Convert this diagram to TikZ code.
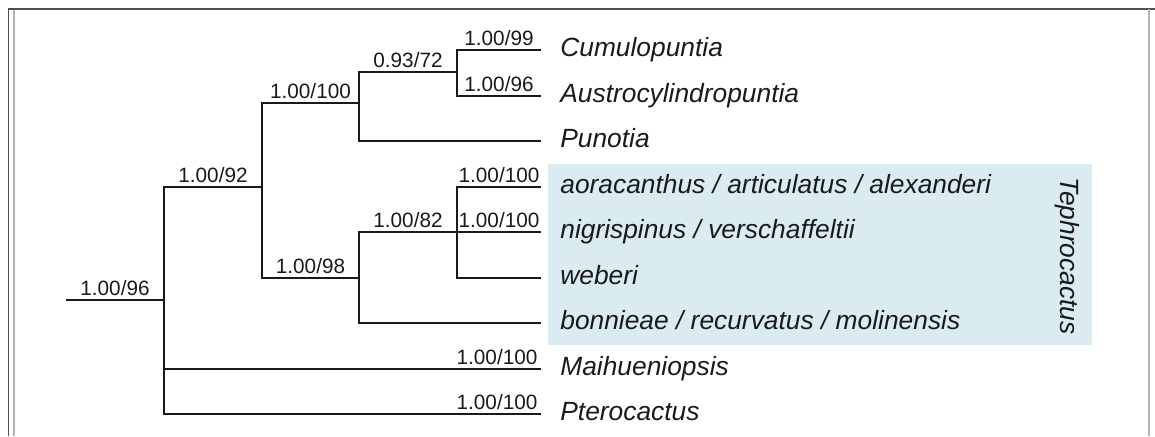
\documentclass[tikz,border=0pt]{standalone}
\usepackage{fontspec}
\setmainfont{Liberation Sans}
\usetikzlibrary{positioning}
\definecolor{treeink}{HTML}{1A1A1A}
\definecolor{cladeblue}{HTML}{DAEBF1}
\definecolor{framegray}{HTML}{505050}
\definecolor{framelight}{HTML}{B4B4B4}

\begin{document}
\begin{tikzpicture}[
  x=0.02cm, y=-0.02cm,
  branch/.style={treeink, line width=1.3pt},
  leaf/.style={anchor=west, inner xsep=0.38cm, inner ysep=0pt, text=treeink, font=\fontsize{15}{17}\selectfont\itshape, text height=0.72em, text depth=0pt},
  sup/.style={above, inner xsep=0.05cm, inner ysep=0.07cm, text=treeink, font=\fontsize{11.8}{13}\selectfont, text depth=0pt},
  cladename/.style={rotate=-90, inner sep=0pt, text=treeink, font=\fontsize{15}{17}\selectfont\itshape, text height=0.72em, text depth=0pt},
]
\useasboundingbox (0,0) rectangle (1155,436);
% frame
\draw[framegray, line width=0.7pt] (8.5,436) -- (8.5,9) -- (1155,9);
\draw[framelight, line width=0.6pt] (14,436) -- (14,10);
\draw[framelight, line width=1pt] (1149,9) -- (1149,436);
% Tephrocactus highlight
\fill[cladeblue] (548,164) rectangle (1092,345);
\node[cladename] (teph) at (1067,256) {Tephrocactus};
% internal nodes
\coordinate (stem) at (66,300);
\coordinate (r) at (164,300);
\coordinate (a) at (262,187);
\coordinate (b) at (359,103);
\coordinate (c) at (457,72);
\coordinate (d) at (359,278);
\coordinate (e) at (457,232);
% tips
\node[leaf] (cumu) at (541,50) {Cumulopuntia};
\node[leaf] (austro) at (541,96) {Austrocylindropuntia};
\node[leaf] (puno) at (541,141) {Punotia};
\node[leaf] (aora) at (541,187) {aoracanthus / articulatus / alexanderi};
\node[leaf] (nigri) at (541,232) {nigrispinus / verschaffeltii};
\node[leaf] (weberi) at (541,278) {weberi};
\node[leaf] (bonn) at (541,323) {bonnieae / recurvatus / molinensis};
\node[leaf] (maihu) at (541,369) {Maihueniopsis};
\node[leaf] (ptero) at (541,414) {Pterocactus};
% branches
\draw[branch] (stem) -- node[sup] (s96) {1.00/96} (r);
\draw[branch] (r) |- node[sup, pos=.75] (s92) {1.00/92} (a);
\draw[branch] (a) |- node[sup, pos=.75] (s100a) {1.00/100} (b);
\draw[branch] (b) |- node[sup, pos=.75] (s72) {0.93/72} (c);
\draw[branch] (c) |- node[sup, pos=.75] (s99) {1.00/99} (cumu.west);
\draw[branch] (c) |- node[sup, pos=.75] (s96b) {1.00/96} (austro.west);
\draw[branch] (b) |- (puno.west);
\draw[branch] (a) |- node[sup, pos=.75] (s98) {1.00/98} (d);
\draw[branch] (d) |- node[sup, pos=.75] (s82) {1.00/82} (e);
\draw[branch] (e) |- node[sup, pos=.75] (s100b) {1.00/100} (aora.west);
\draw[branch] (e) |- node[sup, pos=.75] (s100c) {1.00/100} (nigri.west);
\draw[branch] (e) |- (weberi.west);
\draw[branch] (d) |- (bonn.west);
\draw[branch] (r) |- node[sup, pos=1, anchor=south east] (s100d) {1.00/100} (maihu.west);
\draw[branch] (r) |- node[sup, pos=1, anchor=south east] (s100e) {1.00/100} (ptero.west);
\end{tikzpicture}
\end{document}
